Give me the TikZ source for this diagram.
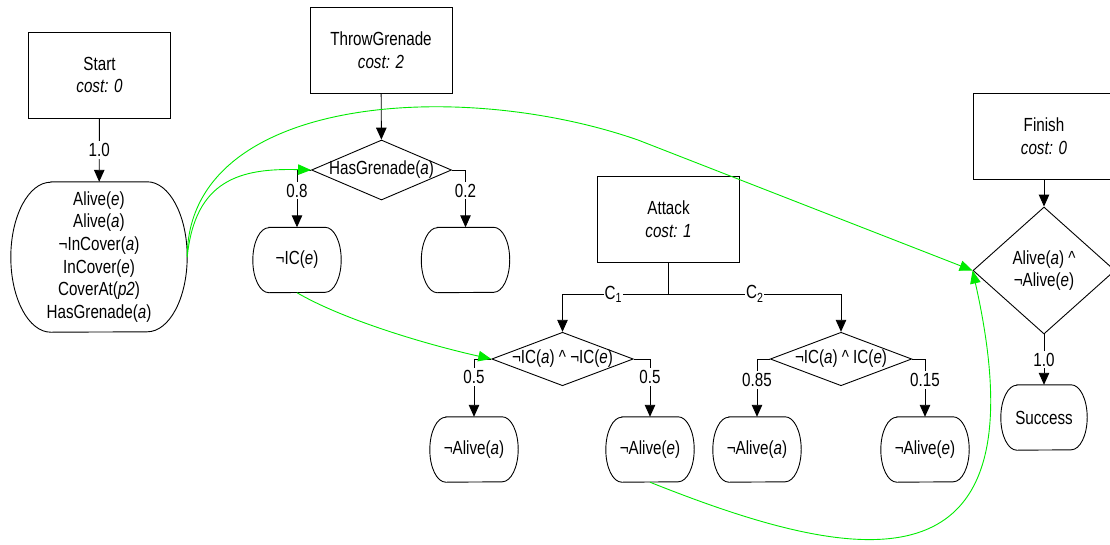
\documentclass[tikz,border=0pt]{standalone}
\usepackage{fontspec}
\setmainfont{Liberation Sans}[FakeStretch=0.8]
\usetikzlibrary{arrows.meta,shapes.geometric}

% outline of a state: flat top and bottom, half-ellipse ends
% #1 node name, #2 horizontal radius of the ends, #3 half height
\newcommand\capsule[3]{%
  \draw[shapeline] ([xshift=#2]#1.north west) -- ([xshift=-#2]#1.north east)
    arc[start angle=90, end angle=-90, x radius=#2, y radius=#3]
    -- ([xshift=#2]#1.south west)
    arc[start angle=270, end angle=90, x radius=#2, y radius=#3] -- cycle;}

\definecolor{linkgreen}{RGB}{0,235,0}

\begin{document}
\begin{tikzpicture}[x=1pt, y=-1pt,
  font=\fontsize{19}{22.7}\selectfont,
  shapeline/.style={draw=black, line width=0.9pt},
  actionbox/.style={shapeline, rectangle, minimum width=142pt, minimum height=86pt,
    inner sep=0pt, align=center},
  statebox/.style={rectangle, minimum width=88pt, minimum height=65pt,
    inner sep=0pt, align=center},
  decision/.style={shapeline, diamond, inner sep=0pt},
  tip/.style={-{Triangle[width=10.5pt,length=12pt]}},
  flow/.style={shapeline, tip},
  link/.style={draw=linkgreen, line width=0.9pt,
    -{Triangle[width=10.5pt,length=13pt]}},
  lbl/.style={fill=white, inner sep=2pt}]

\useasboundingbox (0,0) rectangle (1110,544);
\clip (0,0) rectangle (1110,544);

% ---- action boxes
\node[actionbox] (start)  at (99.5,75)  {Start\\\textit{cost: 0}};
\node[actionbox] (throw)  at (381,50.5) {ThrowGrenade\\\textit{cost: 2}};
\node[actionbox] (attack) at (668.5,219.5) {Attack\\\textit{cost: 1}};
\node[actionbox] (finish) at (1044,136) {Finish\\\textit{cost: 0}};

% ---- states
\node[statebox, minimum width=176pt, minimum height=150pt] (init) at (99,257)
  {Alive(\textit{e})\\Alive(\textit{a})\\¬InCover(\textit{a})\\InCover(\textit{e})\\CoverAt(\textit{p2})\\HasGrenade(\textit{a})};
\capsule{init}{40pt}{75pt}

\node[statebox] (icE)   at (297,260)   {¬IC(\textit{e})};
\capsule{icE}{16pt}{32.5pt}
\node[statebox] (empty) at (465.5,260) {};
\capsule{empty}{16pt}{32.5pt}

\node[statebox] (deadA1) at (474,449.5) {¬Alive(\textit{a})};
\capsule{deadA1}{16pt}{32.5pt}
\node[statebox] (deadE1) at (650,449.5) {¬Alive(\textit{e})};
\capsule{deadE1}{16pt}{32.5pt}
\node[statebox] (deadA2) at (757,449.5) {¬Alive(\textit{a})};
\capsule{deadA2}{16pt}{32.5pt}
\node[statebox] (deadE2) at (925,449.5) {¬Alive(\textit{e})};
\capsule{deadE2}{16pt}{32.5pt}

\node[statebox, minimum width=86pt] (success) at (1044,417.5) {Success};
\capsule{success}{16pt}{32.5pt}

% ---- decisions
\node[decision, minimum width=140pt, minimum height=60pt,
  label={center:HasGrenade(\textit{a})}] (hasg) at (381.5,170) {};
\node[decision, minimum width=141.5pt, minimum height=53.5pt,
  label={center:¬IC(\textit{a}) \textasciicircum{} ¬IC(\textit{e})}] (dec1) at (562.5,359) {};
\node[decision, minimum width=141.5pt, minimum height=53.5pt,
  label={center:¬IC(\textit{a}) \textasciicircum{} IC(\textit{e})}] (dec2) at (841,359) {};
\node[decision, minimum width=142pt, minimum height=127pt,
  label={[align=center]center:Alive(\textit{a}) \textasciicircum\\¬Alive(\textit{e})}] (goal) at (1044,270.5) {};

% ---- black connectors
\draw[flow] (start) -- node[lbl] {1.0} (init);
\draw[flow] (throw) -- (hasg);
\draw[flow] (hasg.west) -| node[lbl, pos=0.68] {0.8} (icE.north);
\draw[flow] (hasg.east) -| node[lbl, pos=0.68] {0.2} (empty.north);

\coordinate (split) at (668.5,294);
\draw[shapeline] (attack.south) -- (split);
\draw[flow] (split) -| node[lbl, pos=0.26, inner sep=1pt] {C\textsubscript{1}} (dec1.north);
\draw[flow] (split) -| node[lbl, pos=0.25, inner sep=1pt] {C\textsubscript{2}} (dec2.north);

\draw[flow] (dec1.west) -| node[lbl, pos=0.655] {0.5} (deadA1.north);
\draw[flow] (dec1.east) -| node[lbl, pos=0.655] {0.5} (deadE1.north);
\draw[flow] (dec2.west) -| node[lbl, pos=0.68] {0.85} (deadA2.north);
\draw[flow] (dec2.east) -| node[lbl, pos=0.68] {0.15} (deadE2.north);

\draw[flow] (finish) -- (goal);
\draw[flow] (goal.south) -- node[lbl] {1.0} (success.north);

% ---- green causal links
\draw[link] (init.east) .. controls (195,180) and (240,168) .. (hasg.west);
\draw[link] (init.east) .. controls (188,95) and (460,78) .. (638,140) -- (goal.west);
\draw[link] (icE.south) .. controls (340,318) and (420,343) .. (dec1.west);
\draw[link] (deadE1.south) .. controls (850,562) and (1048,606) .. (goal.west);

\end{tikzpicture}
\end{document}
